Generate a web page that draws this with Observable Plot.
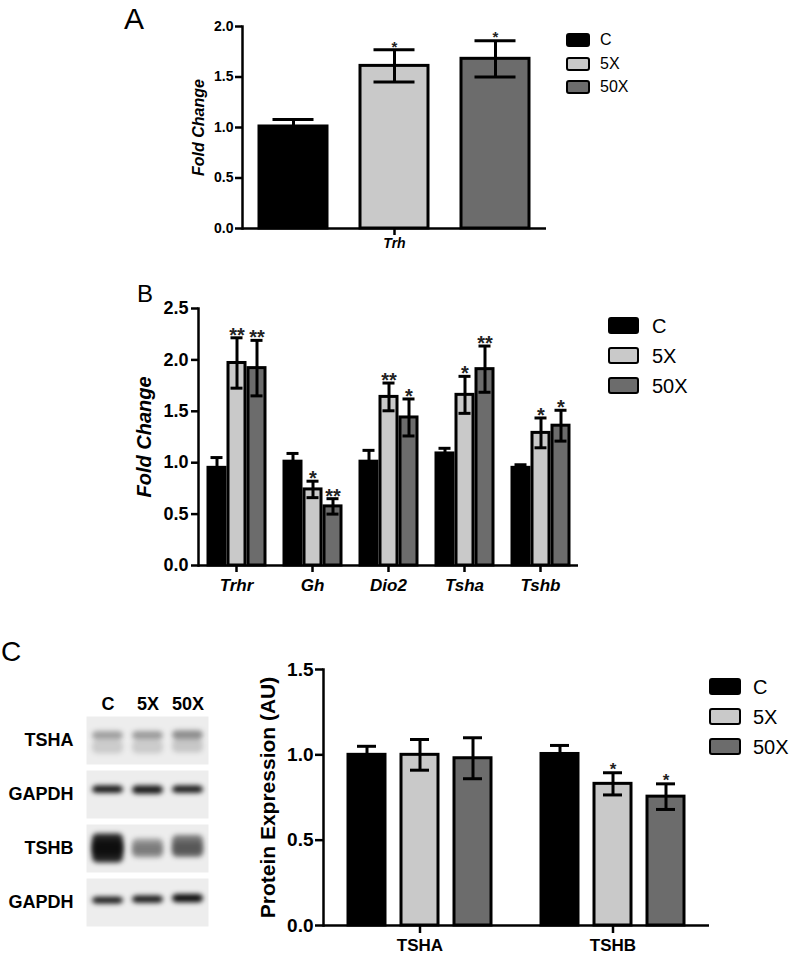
<!DOCTYPE html>
<html><head><meta charset="utf-8">
<script src="https://cdn.jsdelivr.net/npm/d3@7"></script>
<script src="https://cdn.jsdelivr.net/npm/@observablehq/plot@0.6"></script>
<style>
html,body{margin:0;padding:0;background:#fff;}
body{width:793px;height:954px;position:relative;overflow:hidden;font-family:"Liberation Sans",Arial,sans-serif;color:#000;}
.abs{position:absolute;}
.letter{position:absolute;line-height:1.15;font-weight:normal;}
.legend{position:absolute;}
.legend .item{position:absolute;display:flex;align-items:center;white-space:nowrap;}
.legend .sw{box-sizing:border-box;border:2.5px solid #000;border-radius:3px;}
</style>
</head><body>
<script>
// ---------- shared ----------
const groups = ["C", "5X", "50X"];
const groupColors = ["#000000", "#c9c9c9", "#6c6c6c"];

// ---------- Panel A (Trh qPCR) ----------
const genesA = ["Trh"];
const meanA = [1.01, 1.61, 1.68];
const errA  = [0.07, 0.16, 0.18];
const sigA  = ["", "*", "*"];
const yTicksA = [0, 0.5, 1.0, 1.5, 2.0];

// ---------- Panel B (pituitary genes) ----------
const genesB = ["Trhr", "Gh", "Dio2", "Tsha", "Tshb"];
const meanB_C   = [0.95, 1.01, 1.01, 1.09, 0.95];
const errB_C    = [0.10, 0.08, 0.11, 0.05, 0.03];
const meanB_5X  = [1.97, 0.74, 1.64, 1.66, 1.29];
const errB_5X   = [0.245, 0.08, 0.135, 0.18, 0.145];
const meanB_50X = [1.92, 0.575, 1.44, 1.91, 1.36];
const errB_50X  = [0.27, 0.075, 0.18, 0.225, 0.15];
const sigB_5X   = ["**", "*", "**", "*", "*"];
const sigB_50X  = ["**", "**", "*", "**", "*"];
const yTicksB = [0, 0.5, 1.0, 1.5, 2.0, 2.5];

// ---------- Panel C (protein) ----------
const proteinsC = ["TSHA", "TSHB"];
const meanC_C   = [1.00, 1.005];
const errC_C    = [0.05, 0.05];
const meanC_5X  = [1.00, 0.83];
const errC_5X   = [0.09, 0.065];
const meanC_50X = [0.98, 0.755];
const errC_50X  = [0.12, 0.075];
const sigC_5X   = ["", "*"];
const sigC_50X  = ["", "*"];
const yTicksC = [0, 0.5, 1.0, 1.5];

// ---------- Panel C western blot ----------
const blotLanes = ["C", "5X", "50X"];
const blotRows = ["TSHA", "GAPDH-1", "TSHB", "GAPDH-2"];
const blotRowLabels = ["TSHA", "GAPDH", "TSHB", "GAPDH"];
// band: row, lane, center (fraction of panel from top), thickness (fraction), intensity
const bandRow       = ["TSHA","TSHA","TSHA","TSHA","TSHA","TSHA","GAPDH-1","GAPDH-1","GAPDH-1","TSHB","TSHB","TSHB","TSHB","TSHB","TSHB","GAPDH-2","GAPDH-2","GAPDH-2"];
const bandLane      = ["C","5X","50X","C","5X","50X","C","5X","50X","C","5X","50X","C","5X","50X","C","5X","50X"];
const bandCenter    = [0.40,0.40,0.39,0.64,0.64,0.62,0.40,0.41,0.40,0.50,0.50,0.46,0.50,0.52,0.50,0.46,0.44,0.42];
const bandThickness = [0.18,0.18,0.19,0.28,0.28,0.28,0.15,0.17,0.15,0.60,0.40,0.46,0.30,0.22,0.26,0.14,0.15,0.17];
const bandIntensity = [0.32,0.34,0.40,0.14,0.14,0.16,0.92,0.90,0.90,0.85,0.35,0.50,0.60,0.20,0.25,0.90,0.90,0.95];

// ---------- tidy tables ----------
const dataA = groups.map((g, i) => ({gene: genesA[0], group: g, mean: meanA[i], err: errA[i], sig: sigA[i]}));
const mB = [meanB_C, meanB_5X, meanB_50X], eB = [errB_C, errB_5X, errB_50X], sB = [genesB.map(() => ""), sigB_5X, sigB_50X];
const dataB = genesB.flatMap((gene, j) => groups.map((g, i) => ({gene, group: g, mean: mB[i][j], err: eB[i][j], sig: sB[i][j]})));
const mC = [meanC_C, meanC_5X, meanC_50X], eC = [errC_C, errC_5X, errC_50X], sC = [proteinsC.map(() => ""), sigC_5X, sigC_50X];
const dataC = proteinsC.flatMap((gene, j) => groups.map((g, i) => ({gene, group: g, mean: mC[i][j], err: eC[i][j], sig: sC[i][j]})));
const bands = bandRow.map((row, i) => ({row, lane: bandLane[i], c: bandCenter[i], t: bandThickness[i], v: bandIntensity[i]}));

const FONT = "Liberation Sans, Arial, Helvetica, sans-serif";

function barMarks(data, o) {
  return [
    Plot.barY(data, {fx: "gene", x: "group", y: "mean", fill: "group", stroke: "#000", strokeWidth: o.sw}),
    Plot.ruleX(data, {fx: "gene", x: "group", y1: d => d.mean - d.err, y2: d => d.mean + d.err, stroke: "#000", strokeWidth: o.ew}),
    Plot.tickY(data, {fx: "gene", x: "group", y: d => d.mean + d.err, insetLeft: o.cap, insetRight: o.cap, stroke: "#000", strokeWidth: o.ew}),
    Plot.tickY(data, {fx: "gene", x: "group", y: d => d.mean - d.err, insetLeft: o.cap, insetRight: o.cap, stroke: "#000", strokeWidth: o.ew}),
    Plot.text(data, {fx: "gene", x: "group", y: d => d.mean + d.err, text: "sig", lineAnchor: "middle", dy: o.sdy, fontSize: o.sfs, fontWeight: "bold", fill: "#222"})
  ];
}

function chart(o) {
  return Plot.plot({
    width: o.width, height: o.height,
    marginLeft: o.ml, marginRight: o.mr, marginTop: o.mt, marginBottom: o.mb,
    style: {fontFamily: FONT, background: "transparent", color: "#000"},
    fx: {domain: o.cats, padding: 0, label: null},
    x: {domain: groups, paddingInner: o.pi, paddingOuter: o.po, axis: null},
    y: {domain: o.ydomain, axis: null},
    color: {domain: groups, range: groupColors},
    marks: [
      ...barMarks(o.data, o),
      Plot.ruleY([0], {stroke: "#000", strokeWidth: o.aw}),
      Plot.frame({anchor: "left", facetAnchor: "left", stroke: "#000", strokeWidth: o.aw}),
      Plot.axisY({ticks: o.yticks, tickFormat: d3.format(".1f"), tickSize: o.ts, tickPadding: o.tp, strokeWidth: o.aw,
                  fontSize: o.tfs, fontWeight: "bold", label: null}),
      Plot.axisY({ticks: [], tickSize: 0, label: o.ylabel, labelAnchor: "center", labelOffset: o.lo, labelArrow: "none",
                  fontSize: o.lfs, fontWeight: "bold", fontStyle: o.lstyle}),
      Plot.axisFx({anchor: "bottom", tickSize: o.xts, tickPadding: o.xtp, strokeWidth: o.aw, label: null,
                   fontSize: o.xfs, fontWeight: "bold", fontStyle: o.xstyle})
    ]
  });
}

function place(node, left, top) {
  const d = document.createElement("div");
  d.className = "abs";
  d.style.left = left + "px"; d.style.top = top + "px";
  d.appendChild(node);
  document.body.appendChild(d);
  return d;
}
function letter(t, left, top, size) {
  const d = document.createElement("div");
  d.className = "letter"; d.textContent = t;
  d.style.left = left + "px"; d.style.top = top + "px"; d.style.fontSize = size + "px";
  document.body.appendChild(d);
}
function legend(left, top, sw, sh, gap, fs, textLeft) {
  const L = document.createElement("div");
  L.className = "legend"; L.style.left = left + "px"; L.style.top = top + "px";
  groups.forEach((g, i) => {
    const it = document.createElement("div");
    it.className = "item"; it.style.top = (i * gap) + "px"; it.style.left = "0px"; it.style.height = sh + "px";
    const s = document.createElement("div");
    s.className = "sw"; s.style.width = sw + "px"; s.style.height = sh + "px"; s.style.background = groupColors[i];
    const t = document.createElement("span");
    t.textContent = g; t.style.fontSize = fs + "px"; t.style.marginLeft = (textLeft - sw) + "px"; t.style.lineHeight = "1";
    it.appendChild(s); it.appendChild(t); L.appendChild(it);
  });
  document.body.appendChild(L);
}

// Panel A
place(chart({
  data: dataA, cats: genesA, width: 600, height: 270, ml: 242, mr: 54, mt: 26, mb: 42,
  pi: 0.33, po: 0.16, ydomain: [0, 2.0], yticks: yTicksA,
  sw: 3, ew: 3, cap: 13.5, aw: 2.5, sfs: 15, sdy: -3,
  ts: 7, tp: 2, tfs: 14, ylabel: "Fold Change", lo: 50, lfs: 16, lstyle: "italic",
  xts: 7, xtp: 3, xfs: 14, xstyle: "italic"
}), 0, 0);
letter("A", 124, 2, 30);
legend(566, 33, 24, 14, 23.5, 16, 34);

// Panel B
place(chart({
  data: dataB, cats: genesB, width: 600, height: 310, ml: 197, mr: 21, mt: 18, mb: 35,
  pi: 0.17, po: 0.45, ydomain: [0, 2.5], yticks: yTicksB,
  sw: 3, ew: 3, cap: 2.5, aw: 2.5, sfs: 20, sdy: -2.5,
  ts: 7, tp: 3, tfs: 18, ylabel: "Fold Change", lo: 62, lfs: 20, lstyle: "italic",
  xts: 7, xtp: 6, xfs: 17, xstyle: "italic"
}), 0, 290);
letter("B", 137, 280, 24);
legend(608, 317, 31, 17, 30, 20, 44);

// Panel C chart
place(chart({
  data: dataC, cats: proteinsC, width: 500, height: 304, ml: 93, mr: 21, mt: 19, mb: 29,
  pi: 0.3, po: 0.47, ydomain: [0, 1.5], yticks: yTicksC,
  sw: 3, ew: 3, cap: 9, aw: 2.5, sfs: 17, sdy: -3,
  ts: 8, tp: 2, tfs: 19, ylabel: "Protein Expression (AU)", lo: 63, lfs: 21, lstyle: "normal",
  xts: 8, xtp: 5, xfs: 17, xstyle: "normal"
}), 230, 650);
letter("C", 1, 636, 28);
legend(709, 678, 32, 17, 30, 20, 44);

// Western blot
const blot = Plot.plot({
  width: 230, height: 260, marginLeft: 86, marginRight: 22, marginTop: 35, marginBottom: 13,
  style: {fontFamily: FONT, background: "transparent", color: "#000"},
  fy: {domain: blotRows, padding: 0.115, label: null},
  x: {domain: blotLanes, paddingInner: 0.23, paddingOuter: 0.12, label: null},
  y: {domain: [0, 1], reverse: true, axis: null},
  marks: [
    Plot.frame({fill: "#ededed", stroke: "none"}),
    Plot.barY(bands, {fy: "row", x: "lane", y1: d => d.c - d.t / 2, y2: d => d.c + d.t / 2,
                      fill: "#000", fillOpacity: "v", rx: 5, ariaLabel: "bands"}),
    Plot.axisX({anchor: "top", tickSize: 0, tickPadding: 7, fontSize: 18, fontWeight: "bold", label: null}),
    Plot.axisFy({anchor: "left", tickSize: 0, tickPadding: 13, fontSize: 18, fontWeight: "bold", label: null,
                 tickFormat: d => blotRowLabels[blotRows.indexOf(d)]})
  ]
});
const svgBlot = blot.tagName.toLowerCase() === "svg" ? blot : blot.querySelector("svg");
const defs = d3.select(svgBlot).insert("defs", ":first-child");
defs.append("filter").attr("id", "blotblur")
  .attr("filterUnits", "userSpaceOnUse").attr("x", -50).attr("y", -50).attr("width", 400).attr("height", 400)
  .append("feGaussianBlur").attr("stdDeviation", 2.6);
d3.select(svgBlot).selectAll("rect").filter(function() { return this.hasAttribute("fill-opacity"); })
  .attr("filter", "url(#blotblur)");
place(blot, 0, 680);
</script>
</body></html>
